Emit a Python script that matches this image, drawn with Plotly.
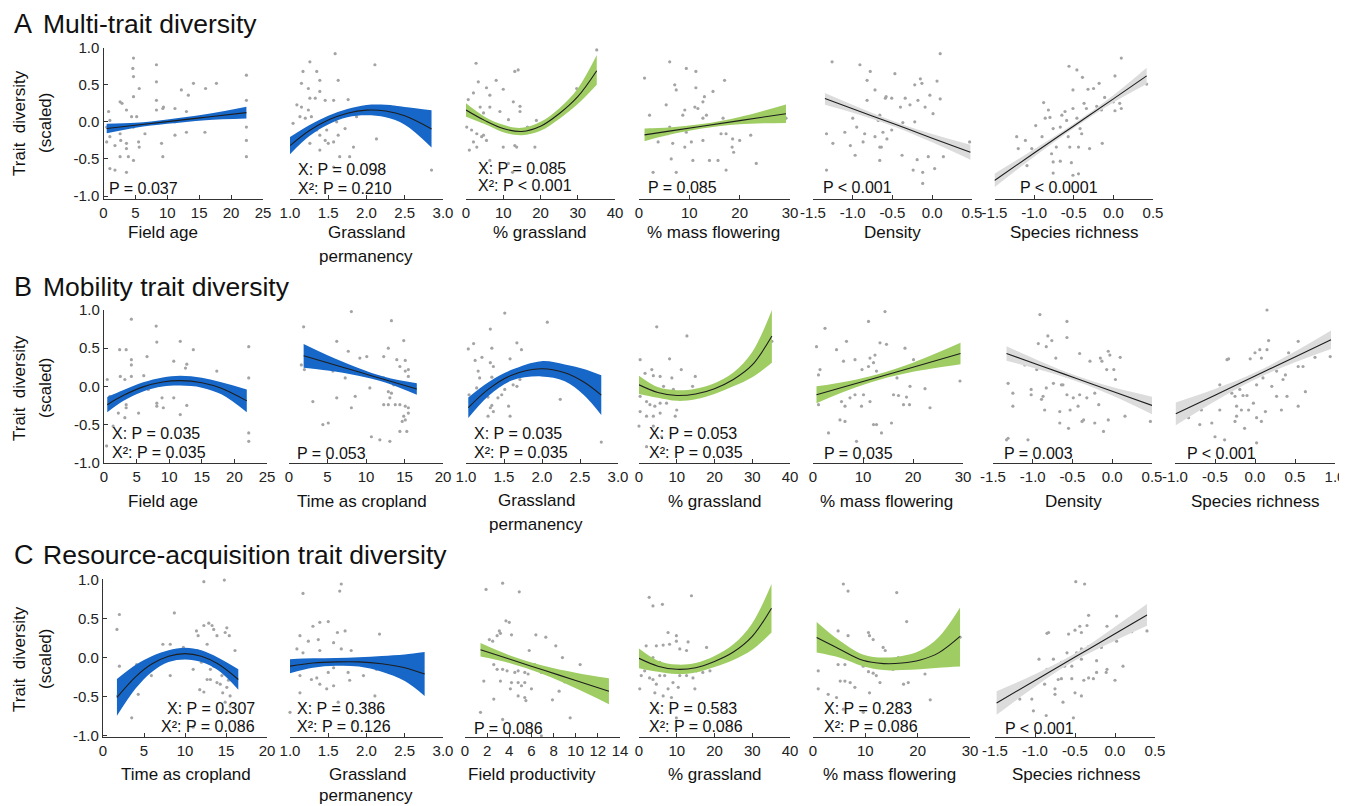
import plotly.graph_objects as go

W, H = 1347, 806          # browser window
OX, OY = 8, 8             # default page margin of the html body
FW, FH = W - OX, H - OY   # figure size so it fits the window exactly
FONT = "Liberation Sans, Arial, Helvetica, sans-serif"
BLUE = "#1767C8"
GREEN = "#9FCD63"
GREY = "#DCDCDC"
PT = "#A4A4A4"
AX = "#333333"

# ---------------- data ----------------
# scatter points (x, y) per panel
a1_pts = [(8.3,1.06),(4.7,0.86),(4.6,0.72),(4.7,0.61),(8.3,0.77),(8.3,0.54),(5.6,0.45),(0.8,0.14),(2.6,0.27),(2.9,0.25),(3.6,0.16),(4.7,0.34),(8.3,0.29),(9.4,0.2),(9.3,0.18),(11.2,0.18),(12.2,0.43),(13.3,0.36),(14.1,0.52),(16.0,0.45),(17.7,0.52),(22.4,0.63),(22.4,0.29),(22.4,-0.07),(22.4,-0.25),(22.4,-0.47),(0.5,-0.07),(1.0,-0.2),(1.8,-0.32),(2.6,-0.16),(2.7,-0.25),(3.6,-0.29),(3.6,-0.36),(3.9,-0.47),(2.6,-0.47),(1.0,-0.63),(1.8,-0.65),(3.6,-0.68),(4.7,-0.52),(5.2,0.07),(5.5,-0.27),(5.6,-0.34),(4.4,0.07),(4.7,-0.07),(9.1,-0.29),(9.3,-0.47),(11.2,-0.18),(13.0,-0.14),(15.9,-0.14),(6.5,-0.16),(8.3,0.16),(13.0,0.14),(11.2,0.0),(0.5,-0.27),(1.0,0.02)]
a2_pts = [(1.33,1.13),(1.59,0.92),(1.26,0.81),(2.11,0.77),(1.17,0.68),(1.35,0.68),(1.15,0.52),(1.39,0.56),(1.63,0.56),(1.24,0.45),(1.39,0.41),(1.46,0.29),(1.57,0.29),(1.76,0.3),(1.09,0.23),(1.15,0.2),(1.24,0.16),(1.33,0.32),(1.26,0.32),(1.04,-0.02),(1.13,0.07),(1.2,0.05),(1.28,0.07),(1.35,-0.11),(1.39,-0.18),(1.46,-0.25),(1.5,-0.29),(1.57,-0.27),(1.63,-0.18),(1.65,-0.47),(1.78,-0.47),(1.83,-0.34),(2.13,-0.23),(1.39,-0.38),(1.26,-0.29),(1.57,-0.61),(2.85,-0.65),(1.3,-0.05),(1.61,0.0),(1.87,0.07),(1.15,-0.16),(1.09,-0.29),(1.72,-0.09),(1.48,-0.11),(2.37,0.2)]
a3_pts = [(35.1,0.97),(2.7,0.79),(14.0,0.7),(13.1,0.68),(3.3,0.54),(8.1,0.56),(5.5,0.46),(10.0,0.44),(2.0,0.39),(6.4,0.36),(0.6,0.3),(3.8,0.2),(6.4,0.2),(12.7,0.27),(14.5,0.21),(29.7,0.45),(4.7,0.12),(9.1,0.14),(11.4,0.03),(14.5,0.14),(18.9,0.02),(1.5,-0.11),(2.9,-0.16),(4.2,-0.2),(4.7,-0.18),(2.0,-0.27),(2.9,-0.34),(0.9,-0.38),(5.5,-0.25),(10.0,-0.34),(13.1,-0.32),(13.6,-0.34),(18.5,-0.34),(6.4,-0.52),(11.4,-0.56),(12.5,-0.68),(16.5,-0.07),(7.8,-0.06),(0.2,-0.07),(2.0,0.07)]
a4_pts = [(2.4,1.01),(6.1,0.81),(9.4,0.72),(11.3,0.68),(1.1,0.59),(7.1,0.5),(7.4,0.43),(17.0,0.56),(11.3,0.46),(13.0,0.34),(14.7,0.41),(5.4,0.23),(9.1,0.16),(11.1,0.2),(11.7,0.18),(12.7,0.27),(13.4,0.09),(2.1,0.09),(8.7,0.09),(12.7,0.05),(16.7,0.05),(19.3,0.0),(2.1,-0.11),(6.1,-0.07),(5.7,-0.16),(9.4,-0.14),(10.4,-0.27),(12.7,-0.25),(16.3,-0.16),(17.3,-0.16),(18.6,-0.23),(20.0,-0.25),(22.2,-0.18),(29.2,0.05),(6.7,-0.29),(9.1,-0.34),(10.7,-0.52),(14.0,-0.52),(15.7,-0.52),(6.4,-0.5),(2.8,-0.68),(7.4,-0.68),(17.3,-0.65),(23.3,-0.56),(18.5,-0.34),(18.8,-0.41),(3.8,-0.27)]
a5_pts = [(-1.26,0.81),(-0.91,0.77),(-0.78,0.68),(-0.57,1.13),(-0.82,0.56),(-0.72,0.43),(-0.58,0.34),(-0.82,0.29),(-1.33,-0.16),(-1.25,-0.29),(-1.1,-0.14),(-1.03,-0.32),(-0.95,-0.07),(-0.85,-0.16),(-0.87,-0.27),(-0.97,-0.45),(-0.72,-0.2),(-0.64,-0.34),(-1.33,-0.65),(-1.0,0.05),(-0.81,0.11),(-0.68,0.02),(0.1,0.92),(-0.47,0.65),(-0.15,0.58),(-0.13,0.52),(-0.22,0.5),(0.06,0.55),(-0.59,0.32),(-0.51,0.32),(-0.34,0.32),(-0.03,0.36),(0.1,0.31),(-0.18,0.29),(-0.4,0.2),(-0.28,0.23),(-0.09,0.2),(0.01,0.11),(-0.22,0.0),(-0.66,0.09),(-0.51,-0.02),(-0.37,-0.01),(-0.62,-0.14),(-0.24,-0.11),(-0.66,-0.34),(-0.51,-0.11),(-0.57,-0.23),(-0.38,-0.45),(-0.19,-0.51),(-0.05,-0.47),(0.14,-0.47),(0.03,-0.63),(-0.24,-0.65),(-0.12,-0.68),(-0.12,-0.83),(-0.03,-0.2),(0.47,-0.27),(-0.66,-0.52)]
a6_pts = [(0.16,1.06),(0.1,0.86),(-0.56,0.75),(-0.46,0.7),(-0.39,0.6),(-0.18,0.52),(-0.51,0.43),(-0.32,0.44),(-0.25,0.45),(0.02,0.62),(0.42,0.51),(-0.88,0.26),(-0.82,0.16),(-0.86,0.05),(-0.8,0.06),(-0.65,0.09),(-0.51,0.18),(-0.61,0.14),(-0.37,0.25),(-0.34,0.18),(-0.21,0.21),(-0.11,0.33),(0.0,0.27),(0.08,0.25),(0.1,0.18),(0.02,0.15),(-0.15,0.16),(-0.98,-0.05),(-0.76,-0.09),(-0.67,-0.07),(-0.59,0.02),(-0.46,0.05),(-0.42,-0.09),(-1.22,-0.2),(-1.11,-0.25),(-0.9,-0.2),(-0.8,-0.27),(-0.72,-0.34),(-0.57,-0.2),(-0.55,-0.34),(-0.44,-0.34),(-0.3,-0.36),(-0.14,-0.29),(-1.2,-0.36),(-1.03,-0.36),(-1.37,-0.7),(-1.09,-0.59),(-0.76,-0.54),(-0.67,-0.53),(-0.53,-0.55),(-0.78,-0.43),(-0.76,-0.69),(-0.51,-0.72),(-0.44,-0.7),(-0.4,-0.16)]
b1_pts = [(15.4,1.04),(4.2,0.88),(8.0,0.79),(8.1,0.58),(11.7,0.59),(2.4,0.48),(3.4,0.48),(4.2,0.35),(4.2,0.28),(22.2,0.52),(10.7,0.33),(12.5,0.24),(12.7,0.29),(17.3,0.2),(0.5,0.09),(2.5,0.13),(3.2,0.09),(4.2,0.13),(6.1,0.14),(22.2,0.11),(2.1,-0.2),(3.2,-0.15),(3.4,-0.24),(3.4,-0.28),(5.3,-0.07),(8.1,-0.22),(8.1,-0.26),(8.9,-0.15),(9.1,-0.28),(10.7,-0.15),(12.7,-0.25),(11.7,-0.37),(2.2,-0.35),(3.2,-0.41),(5.3,-0.35),(1.4,-0.52),(0.4,-0.78),(22.2,-0.61),(22.2,-0.72),(6.6,0.39),(13.7,0.48),(0.9,-0.13),(6.8,-0.04)]
b2_pts = [(8.1,0.98),(13.3,0.86),(1.9,0.78),(6.2,0.59),(14.9,0.6),(12.9,0.5),(7.7,0.46),(9.2,0.37),(10.1,0.39),(12.3,0.39),(14.0,0.35),(15.1,0.34),(14.4,0.26),(15.1,0.2),(15.5,0.22),(15.5,0.13),(12.3,0.11),(1.6,0.28),(2.0,0.22),(5.7,0.2),(7.3,0.11),(13.6,0.02),(10.5,-0.02),(12.9,-0.07),(13.3,-0.09),(8.6,-0.13),(6.2,-0.15),(13.1,-0.15),(3.1,-0.2),(8.1,-0.28),(12.3,-0.24),(12.9,-0.24),(13.8,-0.24),(14.4,-0.24),(15.1,-0.26),(15.5,-0.28),(14.9,-0.39),(14.7,-0.46),(15.1,-0.44),(15.5,-0.35),(4.4,-0.5),(5.1,-0.48),(15.3,-0.59),(14.4,-0.59),(11.8,-0.7),(13.1,-0.72),(10.7,-0.66)]
b3_pts = [(1.51,0.96),(2.07,0.84),(1.32,0.75),(1.1,0.56),(1.03,0.49),(1.67,0.57),(1.34,0.5),(1.73,0.48),(1.12,0.34),(1.21,0.38),(1.32,0.31),(1.36,0.26),(1.58,0.36),(1.16,0.2),(1.18,0.11),(1.34,0.12),(1.67,0.0),(1.62,0.02),(1.51,-0.04),(1.23,-0.07),(1.29,-0.14),(1.42,-0.15),(1.47,-0.11),(1.56,-0.26),(1.34,-0.25),(1.32,-0.28),(1.36,-0.33),(1.29,-0.39),(1.58,-0.39),(2.24,-0.17),(2.78,-0.73),(1.04,-0.11),(1.14,-0.02),(1.71,0.09)]
b4_pts = [(4.7,0.78),(12.7,0.66),(0.3,0.35),(8.1,0.36),(11.2,0.22),(3.4,0.22),(1.6,0.17),(3.8,0.14),(5.6,0.13),(8.7,0.11),(14.9,0.13),(1.3,0.02),(6.5,0.0),(14.2,0.0),(29.5,0.17),(35.2,0.59),(0.3,-0.13),(2.0,-0.2),(2.9,-0.24),(4.2,-0.26),(5.6,-0.22),(0.3,-0.33),(2.0,-0.39),(3.8,-0.39),(5.6,-0.35),(10.0,-0.31),(7.3,-0.22),(0.0,-0.52),(3.8,-0.52),(9.6,-0.39),(2.0,-0.79),(6.0,-0.66),(1.6,-0.09),(9.1,-0.04),(20.6,0.01)]
b5_pts = [(14.4,0.98),(11.1,0.85),(2.4,0.76),(6.7,0.59),(13.4,0.57),(4.7,0.48),(0.7,0.52),(6.1,0.33),(8.4,0.35),(9.8,0.22),(11.4,0.37),(12.1,0.31),(12.4,0.41),(11.1,0.26),(12.7,0.2),(1.4,0.22),(1.1,0.15),(8.7,0.02),(8.4,-0.11),(10.1,-0.11),(7.4,-0.15),(5.7,-0.2),(6.4,-0.26),(9.7,-0.26),(11.4,-0.2),(1.1,-0.24),(5.4,-0.44),(6.4,-0.46),(12.1,-0.5),(12.7,-0.5),(3.1,-0.61),(8.7,-0.72),(20.1,0.35),(18.4,0.5),(29.4,0.07),(16.8,0.11),(19.4,0.0),(22.4,-0.03),(16.1,-0.11),(17.1,-0.12),(18.1,-0.24),(19.3,-0.24),(23.4,-0.28),(18.7,-0.14),(15.7,-0.48),(13.7,-0.61),(14.7,0.55)]
b6_pts = [(-0.22,1.07),(-0.91,0.94),(-0.57,0.85),(-0.81,0.66),(-0.76,0.6),(-0.83,0.52),(-0.57,0.64),(-0.93,0.56),(-0.05,0.46),(-0.03,0.41),(-0.15,0.37),(-0.13,0.33),(0.1,0.38),(-0.41,0.43),(-0.28,0.33),(-0.71,0.37),(-1.1,0.28),(-0.95,0.22),(-0.83,0.26),(-0.07,0.22),(0.02,0.22),(0.04,0.09),(-1.31,0.04),(-1.25,-0.09),(-1.02,-0.04),(-1.02,-0.11),(-0.87,-0.13),(-0.83,-0.02),(-0.74,0.04),(-0.64,0.02),(-0.62,0.02),(-0.57,-0.11),(-0.49,-0.15),(-0.41,-0.11),(-0.32,-0.15),(-0.22,-0.09),(-0.17,-0.24),(-0.43,-0.26),(-0.89,-0.17),(-1.25,-0.26),(-0.85,-0.31),(-0.66,-0.33),(-0.53,-0.31),(-0.38,-0.46),(-0.36,-0.44),(-0.22,-0.48),(-0.11,-0.59),(-0.05,-0.44),(-0.66,-0.48),(-0.55,-0.55),(0.16,-0.39),(0.48,-0.46),(-1.33,-0.7),(-1.06,-0.7),(-1.31,-0.68)]
b7_pts = [(0.63,1.11),(0.02,1.03),(0.15,1.0),(0.17,0.6),(0.54,0.59),(0.06,0.48),(0.15,0.48),(0.0,0.44),(-0.06,0.36),(0.08,0.37),(-0.35,0.35),(-0.33,0.36),(0.42,0.44),(0.52,0.39),(0.75,0.38),(0.94,0.39),(0.54,0.26),(0.6,0.26),(-0.44,0.02),(-0.29,-0.09),(-0.19,-0.04),(-0.1,0.09),(0.02,0.02),(0.1,0.11),(0.27,0.2),(0.38,0.15),(0.35,0.09),(0.21,0.0),(0.27,-0.13),(0.4,-0.13),(-0.25,-0.13),(-0.15,-0.12),(-0.1,-0.12),(-0.02,-0.22),(-0.23,-0.26),(-0.17,-0.31),(-0.08,-0.31),(-0.23,-0.39),(-0.25,-0.46),(0.02,-0.41),(0.08,-0.46),(0.13,-0.33),(0.33,-0.31),(0.54,-0.26),(0.63,-0.07),(-0.83,-0.41),(-0.69,-0.5),(-0.54,-0.48),(-0.5,-0.66),(-0.38,-0.7),(-0.13,-0.55),(0.02,-0.74),(-0.44,-0.31),(-0.67,-0.31)]
c1_pts = [(8.2,1.09),(12.3,0.97),(14.8,0.99),(8.7,0.57),(2.0,0.55),(1.7,0.36),(12.3,0.41),(12.9,0.44),(13.3,0.41),(13.5,0.36),(15.1,0.38),(14.9,0.32),(15.4,0.28),(11.4,0.34),(11.6,0.28),(13.9,0.28),(12.7,0.17),(7.3,0.17),(8.2,0.17),(9.8,0.13),(11.5,0.09),(16.1,0.09),(2.0,-0.11),(4.1,-0.09),(5.9,-0.23),(8.2,-0.23),(11.0,-0.15),(12.0,-0.06),(13.1,-0.15),(13.5,-0.11),(14.1,-0.06),(14.5,-0.23),(14.9,-0.19),(13.1,-0.28),(13.9,-0.32),(14.3,-0.34),(15.3,-0.29),(15.1,-0.38),(14.6,-0.45),(11.8,-0.41),(12.3,-0.44),(15.5,-0.49),(14.9,-0.57),(15.5,-0.62),(15.1,-0.7),(3.5,-0.77),(1.8,-0.49),(4.3,-0.47),(11.0,-0.89),(12.7,-0.28)]
c2_pts = [(1.67,0.94),(1.65,0.85),(1.17,0.82),(1.5,0.46),(1.39,0.45),(1.62,0.32),(1.72,0.34),(1.3,0.4),(1.13,0.28),(1.24,0.21),(1.37,0.23),(1.57,0.19),(2.17,0.3),(1.09,0.11),(1.17,0.06),(1.39,0.09),(1.67,0.11),(2.0,-0.02),(1.8,0.09),(1.04,-0.13),(1.22,-0.11),(1.41,-0.09),(1.5,-0.19),(1.57,-0.13),(1.76,-0.19),(1.28,-0.28),(1.35,-0.26),(1.39,-0.34),(1.48,-0.4),(1.57,-0.36),(1.78,-0.29),(2.11,-0.49),(1.13,-0.45),(1.0,-0.7),(1.63,-0.57),(1.83,-0.83),(2.13,-0.15),(1.96,-0.23),(1.13,-0.23)]
c3_pts = [(3.4,0.95),(1.9,0.87),(4.9,0.84),(3.7,0.47),(4.0,0.45),(3.1,0.34),(3.2,0.31),(2.9,0.28),(4.2,0.29),(2.2,0.23),(2.5,0.21),(6.4,0.29),(7.3,0.26),(8.2,0.15),(5.8,0.09),(2.3,0.04),(2.8,0.06),(2.6,-0.09),(2.9,-0.15),(3.4,-0.15),(3.8,-0.17),(4.5,-0.19),(4.8,-0.17),(5.4,-0.19),(5.7,-0.21),(6.3,-0.09),(6.9,-0.19),(8.8,0.0),(10.4,-0.09),(9.0,-0.31),(1.7,-0.3),(3.2,-0.3),(4.2,-0.32),(4.8,-0.32),(5.4,-0.32),(6.0,-0.4),(5.1,-0.36),(4.1,-0.4),(4.8,-0.49),(5.4,-0.51),(5.5,-0.55),(7.3,-0.19),(7.9,-0.54),(8.5,-0.43),(2.6,-0.53),(1.4,-0.7),(3.4,-0.79),(9.5,-0.77),(6.9,-1.0)]
c4_pts = [(2.7,0.77),(6.2,0.68),(3.7,0.66),(13.9,0.79),(7.7,0.32),(9.9,0.28),(13.0,0.2),(1.9,0.15),(4.6,0.15),(6.4,0.16),(8.1,0.17),(9.9,0.21),(10.8,0.11),(12.6,0.09),(17.9,0.13),(29.8,0.16),(3.7,0.0),(5.5,-0.06),(6.2,-0.13),(2.4,-0.09),(1.5,-0.17),(0.6,-0.23),(2.8,-0.26),(3.7,-0.28),(4.6,-0.34),(5.5,-0.23),(6.8,-0.23),(9.0,-0.32),(10.8,-0.23),(12.6,-0.23),(14.3,-0.26),(15.2,-0.17),(16.9,-0.19),(18.8,-0.17),(14.8,-0.4),(4.2,-0.45),(6.4,-0.49),(8.6,-0.51),(10.4,-0.38),(5.0,-0.68),(9.9,-0.77),(0.2,-0.4),(7.7,-0.4)]
c5_pts = [(5.8,0.94),(6.7,0.85),(4.8,0.34),(6.7,0.28),(10.6,0.32),(10.8,0.28),(11.5,0.23),(13.4,0.13),(4.8,-0.09),(6.1,-0.09),(9.6,-0.11),(10.6,-0.18),(11.5,-0.2),(12.1,-0.23),(5.2,-0.3),(6.1,-0.3),(7.1,-0.32),(8.0,-0.38),(12.8,-0.32),(1.0,-0.17),(2.9,-0.47),(4.5,-0.51),(10.8,-0.45),(5.8,-0.66),(9.6,-0.7),(1.0,-0.4),(16.0,0.83),(17.9,0.46),(13.8,0.09),(16.3,0.0),(17.3,0.0),(15.3,-0.15),(21.4,-0.21),(17.3,-0.34),(18.2,-0.32),(22.4,-0.54),(28.1,0.26)]
c6_pts = [(0.1,1.05),(-0.49,0.97),(-0.38,0.94),(-0.33,0.54),(0.02,0.53),(-0.85,0.31),(-0.83,0.32),(-0.58,0.3),(-0.5,0.35),(-0.42,0.32),(-0.44,0.4),(-0.35,0.41),(-0.1,0.4),(0.02,0.21),(0.21,0.33),(0.4,0.34),(-0.6,0.06),(-0.48,0.06),(-0.42,0.11),(-0.33,0.14),(-0.25,0.13),(-0.17,0.13),(-0.95,-0.02),(-0.77,-0.02),(-0.67,-0.06),(-0.63,-0.11),(-0.54,-0.11),(-0.42,-0.02),(-0.23,-0.04),(-0.85,-0.15),(-0.79,-0.19),(-0.71,-0.28),(-0.67,-0.27),(-0.54,-0.27),(-0.39,-0.29),(-0.33,-0.26),(-0.27,-0.27),(-0.23,-0.19),(-0.1,-0.15),(-0.11,-0.19),(0.0,-0.29),(0.1,-0.11),(-1.31,-0.45),(-1.17,-0.36),(-0.88,-0.34),(-0.75,-0.4),(-0.75,-0.47),(-0.5,-0.45),(-0.42,-0.49),(-0.65,-0.57),(-1.04,-0.53),(-1.19,-0.53),(-1.02,-0.68),(-0.86,-0.74),(-0.52,-0.77)]

# fitted curves: x, fit, lower CI, upper CI
a1_fx = [0.5, 5, 10, 16, 22.4];     a1_fy = [-0.09, -0.046, 0.003, 0.062, 0.125]
a1_lo = [-0.155, -0.08, -0.027, 0.022, 0.045];   a1_hi = [-0.025, -0.012, 0.033, 0.102, 0.205]
a2_fx = [1.0, 1.25, 1.5, 1.75, 2.0, 2.25, 2.5, 2.85]; a2_fy = [-0.32, -0.12, 0.024, 0.117, 0.158, 0.146, 0.082, -0.095]
a2_lo = [-0.435, -0.195, -0.036, 0.062, 0.088, 0.061, -0.038, -0.345]; a2_hi = [-0.205, -0.045, 0.084, 0.172, 0.228, 0.231, 0.202, 0.155]
a3_fx = [0, 5, 10, 15, 20, 25, 30, 35.1]; a3_fy = [0.16, 0.02, -0.09, -0.13, -0.06, 0.11, 0.34, 0.69]
a3_lo = [0.07, -0.03, -0.14, -0.18, -0.12, 0.04, 0.24, 0.5]; a3_hi = [0.25, 0.07, -0.04, -0.08, 0.0, 0.18, 0.45, 0.9]
a4_fx = [1.1, 6, 12.5, 20, 29.2]; a4_fy = [-0.175, -0.125, -0.06, 0.017, 0.11]
a4_lo = [-0.26, -0.175, -0.09, -0.033, -0.015]; a4_hi = [-0.09, -0.075, -0.03, 0.067, 0.235]
a5_fx = [-1.35, -0.9, -0.45, 0.0, 0.48]; a5_fy = [0.315, 0.137, -0.04, -0.22, -0.41]
a5_lo = [0.23, 0.09, -0.075, -0.275, -0.51]; a5_hi = [0.39, 0.185, -0.005, -0.165, -0.31]
a6_fx = [-1.5, -1.0, -0.5, 0.0, 0.42]; a6_fy = [-0.79, -0.42, -0.055, 0.31, 0.62]
a6_lo = [-0.88, -0.47, -0.085, 0.26, 0.51]; a6_hi = [-0.70, -0.37, -0.025, 0.36, 0.73]
b1_fx = [0.5, 3, 6, 9, 11.7, 15, 18, 21.9]; b1_fy = [-0.24, -0.118, -0.007, 0.057, 0.075, 0.048, -0.025, -0.19]
b1_lo = [-0.34, -0.19, -0.067, -0.003, 0.01, -0.017, -0.105, -0.34]; b1_hi = [-0.14, -0.048, 0.053, 0.117, 0.14, 0.113, 0.055, -0.04]
b2_fx = [1.9, 5, 9, 12.5, 16.6]; b2_fy = [0.4, 0.308, 0.19, 0.086, -0.035]
b2_lo = [0.245, 0.208, 0.14, 0.051, -0.11]; b2_hi = [0.555, 0.408, 0.24, 0.121, 0.04]
b3_fx = [1.03, 1.3, 1.6, 1.99, 2.3, 2.55, 2.78]; b3_fy = [-0.28, -0.033, 0.146, 0.23, 0.177, 0.056, -0.115]
b3_lo = [-0.415, -0.123, 0.076, 0.13, 0.067, -0.114, -0.375]; b3_hi = [-0.145, 0.057, 0.216, 0.33, 0.287, 0.226, 0.145]
b4_fx = [0, 5, 10, 15, 20, 25, 30, 35.2]; b4_fy = [0.02, -0.08, -0.12, -0.1, -0.03, 0.09, 0.28, 0.66]
b4_lo = [-0.1, -0.15, -0.19, -0.17, -0.1, 0.0, 0.12, 0.31]; b4_hi = [0.14, -0.01, -0.05, -0.03, 0.04, 0.18, 0.45, 1.0]
b5_fx = [0.7, 7, 13, 20, 29.5]; b5_fy = [-0.11, 0.008, 0.12, 0.25, 0.43]
b5_lo = [-0.22, -0.052, 0.08, 0.19, 0.29]; b5_hi = [0.0, 0.068, 0.16, 0.31, 0.57]
b6_fx = [-1.33, -0.9, -0.45, 0.0, 0.5]; b6_fy = [0.43, 0.27, 0.103, -0.065, -0.25]
b6_lo = [0.335, 0.215, 0.068, -0.12, -0.365]; b6_hi = [0.525, 0.325, 0.138, -0.01, -0.135]
b7_fx = [-0.99, -0.5, 0.0, 0.5, 0.95]; b7_fy = [-0.36, -0.115, 0.135, 0.385, 0.61]
b7_lo = [-0.51, -0.195, 0.09, 0.315, 0.49]; b7_hi = [-0.21, -0.035, 0.18, 0.455, 0.73]
c1_fx = [1.7, 4, 6, 8, 10, 12, 14, 16.5]; c1_fy = [-0.51, -0.243, -0.08, 0.017, 0.05, 0.017, -0.08, -0.28]
c1_lo = [-0.745, -0.393, -0.18, -0.058, -0.025, -0.058, -0.16, -0.41]; c1_hi = [-0.275, -0.093, 0.02, 0.092, 0.125, 0.092, 0.0, -0.15]
c2_fx = [1.0, 1.3, 1.6, 1.9, 2.2, 2.5, 2.76]; c2_fy = [-0.11, -0.07, -0.055, -0.055, -0.08, -0.13, -0.21]
c2_lo = [-0.2, -0.13, -0.105, -0.115, -0.18, -0.3, -0.49]; c2_hi = [-0.02, -0.01, -0.005, 0.005, 0.02, 0.04, 0.07]
c3_fx = [1.4, 4, 7, 10, 13]; c3_fy = [0.1, -0.019, -0.156, -0.293, -0.43]
c3_lo = [0.015, -0.069, -0.211, -0.393, -0.595]; c3_hi = [0.185, 0.031, -0.101, -0.193, -0.265]
c4_fx = [0, 5, 10, 15, 20, 25, 30, 35.1]; c4_fy = [-0.01, -0.11, -0.15, -0.13, -0.05, 0.07, 0.27, 0.63]
c4_lo = [-0.135, -0.18, -0.21, -0.19, -0.12, -0.03, 0.1, 0.32]; c4_hi = [0.115, -0.04, -0.09, -0.07, 0.02, 0.17, 0.44, 0.94]
c5_fx = [0.7, 5, 9.5, 13.5, 17, 20.5, 24, 28.1]; c5_fy = [0.255, 0.11, -0.035, -0.077, -0.07, -0.03, 0.06, 0.27]
c5_lo = [0.064, 0.0, -0.11, -0.16, -0.16, -0.15, -0.13, -0.115]; c5_hi = [0.455, 0.22, 0.04, 0.0, 0.02, 0.09, 0.26, 0.64]
c6_fx = [-1.48, -1.0, -0.5, 0.0, 0.4]; c6_fy = [-0.58, -0.293, 0.006, 0.305, 0.545]
c6_lo = [-0.73, -0.373, -0.039, 0.215, 0.405]; c6_hi = [-0.43, -0.213, 0.051, 0.395, 0.685]

# tick labels
t_age = [0, 5, 10, 15, 20, 25]
t_crop = [0, 5, 10, 15, 20]
t_perm = [1.0, 1.5, 2.0, 2.5, 3.0]
t_grass = [0, 10, 20, 30, 40]
t_mf = [0, 10, 20, 30]
t_std = [-1.5, -1.0, -0.5, 0.0, 0.5]
t_sr = [-1.0, -0.5, 0.0, 0.5, 1.0]
t_prod = [0, 2, 4, 6, 8, 10, 12, 14]
t_y = [-1.0, -0.5, 0.0, 0.5, 1.0]

def lab(vals, dec):
    return [(f"{v:.1f}" if dec else f"{int(v)}") for v in vals]

def px(x):   # window pixel -> paper x
    return (x - OX) / FW

def py(y):   # window pixel -> paper y
    return 1 - (y - OY) / FH

# ---------------- layout geometry (window pixels) ----------------
rows = {
    "A": dict(ytop=47.7, ybot=199.0, yr=[-1.04, 1.0]),
    "B": dict(ytop=310.0, ybot=462.7, yr=[-1.0, 1.0]),
    "C": dict(ytop=579.3, ybot=737.0, yr=[-1.015, 1.0]),
}

panels = [
    dict(row="A", x0=103.5, x1=263, xr=[0, 25], tv=t_age, dec=False, pts=a1_pts, fit=(a1_fx, a1_fy, a1_lo, a1_hi), col=BLUE, ylab=True),
    dict(row="A", x0=290, x1=443, xr=[1, 3], tv=t_perm, dec=True, pts=a2_pts, fit=(a2_fx, a2_fy, a2_lo, a2_hi), col=BLUE),
    dict(row="A", x0=466, x1=615, xr=[0, 40], tv=t_grass, dec=False, pts=a3_pts, fit=(a3_fx, a3_fy, a3_lo, a3_hi), col=GREEN),
    dict(row="A", x0=639, x1=790, xr=[0, 30], tv=t_mf, dec=False, pts=a4_pts, fit=(a4_fx, a4_fy, a4_lo, a4_hi), col=GREEN),
    dict(row="A", x0=813, x1=972, xr=[-1.5, 0.5], tv=t_std, dec=True, pts=a5_pts, fit=(a5_fx, a5_fy, a5_lo, a5_hi), col=GREY),
    dict(row="A", x0=994.5, x1=1153, xr=[-1.5, 0.5], tv=t_std, dec=True, pts=a6_pts, fit=(a6_fx, a6_fy, a6_lo, a6_hi), col=GREY),

    dict(row="B", x0=104, x1=267, xr=[0, 25], tv=t_age, dec=False, pts=b1_pts, fit=(b1_fx, b1_fy, b1_lo, b1_hi), col=BLUE, ylab=True),
    dict(row="B", x0=289, x1=443, xr=[0, 20], tv=t_crop, dec=False, pts=b2_pts, fit=(b2_fx, b2_fy, b2_lo, b2_hi), col=BLUE),
    dict(row="B", x0=466, x1=618, xr=[1, 3], tv=t_perm, dec=True, pts=b3_pts, fit=(b3_fx, b3_fy, b3_lo, b3_hi), col=BLUE),
    dict(row="B", x0=639, x1=790, xr=[0, 40], tv=t_grass, dec=False, pts=b4_pts, fit=(b4_fx, b4_fy, b4_lo, b4_hi), col=GREEN),
    dict(row="B", x0=813, x1=963, xr=[0, 30], tv=t_mf, dec=False, pts=b5_pts, fit=(b5_fx, b5_fy, b5_lo, b5_hi), col=GREEN),
    dict(row="B", x0=993, x1=1152, xr=[-1.5, 0.5], tv=t_std, dec=True, pts=b6_pts, fit=(b6_fx, b6_fy, b6_lo, b6_hi), col=GREY),
    dict(row="B", x0=1175, x1=1335, xr=[-1.0, 1.0], tv=t_sr, dec=True, pts=b7_pts, fit=(b7_fx, b7_fy, b7_lo, b7_hi), col=GREY),

    dict(row="C", x0=103, x1=267, xr=[0, 20], tv=t_crop, dec=False, pts=c1_pts, fit=(c1_fx, c1_fy, c1_lo, c1_hi), col=BLUE, ylab=True),
    dict(row="C", x0=290, x1=443, xr=[1, 3], tv=t_perm, dec=True, pts=c2_pts, fit=(c2_fx, c2_fy, c2_lo, c2_hi), col=BLUE),
    dict(row="C", x0=465, x1=620, xr=[0, 14], tv=t_prod, dec=False, pts=c3_pts, fit=(c3_fx, c3_fy, c3_lo, c3_hi), col=GREEN),
    dict(row="C", x0=639, x1=790, xr=[0, 40], tv=t_grass, dec=False, pts=c4_pts, fit=(c4_fx, c4_fy, c4_lo, c4_hi), col=GREEN),
    dict(row="C", x0=813, x1=970, xr=[0, 30], tv=t_mf, dec=False, pts=c5_pts, fit=(c5_fx, c5_fy, c5_lo, c5_hi), col=GREEN),
    dict(row="C", x0=995, x1=1155, xr=[-1.5, 0.5], tv=t_std, dec=True, pts=c6_pts, fit=(c6_fx, c6_fy, c6_lo, c6_hi), col=GREY),
]

fig = go.Figure()
layout = {}
for i, p in enumerate(panels, start=1):
    xa = "x" if i == 1 else f"x{i}"
    ya = "y" if i == 1 else f"y{i}"
    r = rows[p["row"]]
    xs = [a for a, b in p["pts"]]
    ys = [b for a, b in p["pts"]]
    fx, fy, lo, hi = p["fit"]
    fig.add_trace(go.Scatter(x=xs, y=ys, mode="markers", xaxis=xa, yaxis=ya,
                             marker=dict(size=3.2, color=PT), cliponaxis=False,
                             hoverinfo="skip", showlegend=False))
    fig.add_trace(go.Scatter(x=fx, y=lo, mode="lines", xaxis=xa, yaxis=ya,
                             line=dict(width=0, shape="spline", color=p["col"]),
                             hoverinfo="skip", showlegend=False))
    fig.add_trace(go.Scatter(x=fx, y=hi, mode="lines", xaxis=xa, yaxis=ya,
                             line=dict(width=0, shape="spline", color=p["col"]),
                             fill="tonexty", fillcolor=p["col"],
                             hoverinfo="skip", showlegend=False))
    fig.add_trace(go.Scatter(x=fx, y=fy, mode="lines", xaxis=xa, yaxis=ya,
                             line=dict(width=1.1, shape="spline", color="#1E1E1E"),
                             hoverinfo="skip", showlegend=False))
    xk = "xaxis" if i == 1 else f"xaxis{i}"
    yk = "yaxis" if i == 1 else f"yaxis{i}"
    layout[xk] = dict(domain=[px(p["x0"]), px(p["x1"])], range=p["xr"], anchor=ya,
                      tickvals=p["tv"], ticktext=lab(p["tv"], p["dec"]),
                      ticks="inside", ticklen=4, tickwidth=1, tickcolor=AX,
                      showline=True, linecolor=AX, linewidth=1.3,
                      showgrid=False, zeroline=False, fixedrange=True, automargin=False,
                      tickfont=dict(family=FONT, size=15, color="#222222"))
    yax = dict(domain=[py(r["ybot"]), py(r["ytop"])], range=r["yr"], anchor=xa,
               showgrid=False, zeroline=False, fixedrange=True, automargin=False)
    if p.get("ylab"):
        yax.update(showline=True, linecolor=AX, linewidth=1.3, ticks="inside", ticklen=4,
                   tickwidth=1, tickcolor=AX, tickvals=t_y, ticktext=lab(t_y, True),
                   tickfont=dict(family=FONT, size=15, color="#222222"))
    else:
        yax.update(visible=False)
    layout[yk] = yax

ann = []
def txt(x, y, s, size=16, xa="left", angle=0):
    ann.append(dict(x=px(x), y=py(y), xref="paper", yref="paper", text=s,
                    showarrow=False, xanchor=xa, yanchor="middle", textangle=angle,
                    font=dict(family=FONT, size=size, color="#111111")))

# headers
for letter, title, yc in [("A", "Multi-trait diversity", 24), ("B", "Mobility trait diversity", 287),
                          ("C", "Resource-acquisition trait diversity", 555)]:
    txt(12, yc, letter, size=27)
    txt(41, yc, title, size=26.5)

# y titles
for yc in [123, 388, 659]:
    txt(19, yc, "Trait\u00a0 diversity", size=17, xa="center", angle=-90)
    txt(45, yc, "(scaled)", size=17, xa="center", angle=-90)

# x titles
xt = [
    (163, 233, "Field age"), (366, 233, "Grassland"), (366, 257, "permanency"), (540, 233, "% grassland"),
    (713, 233, "% mass flowering"), (892, 233, "Density"), (1074, 233, "Species richness"),
    (163, 501, "Field age"), (362, 501, "Time as cropland"), (536, 500, "Grassland"), (536, 524, "permanency"),
    (715, 501, "% grassland"), (887, 501, "% mass flowering"), (1073, 501, "Density"), (1255, 501, "Species richness"),
    (186, 774, "Time as cropland"), (367, 774, "Grassland"), (366, 795, "permanency"), (532, 774, "Field productivity"),
    (715, 774, "% grassland"), (889, 774, "% mass flowering"), (1076, 774, "Species richness"),
]
for x, y, s in xt:
    txt(x, y, s, size=17, xa="center")

# P-value notes
notes = [
    (107, 188, "P = 0.037", "left"), (296, 170, "X: P = 0.098", "left"), (296, 188, "X²: P = 0.210", "left"),
    (476, 168, "X: P = 0.085", "left"), (476, 186, "X²: P < 0.001", "left"), (646, 187, "P = 0.085", "left"),
    (821, 187, "P < 0.001", "left"), (1018, 187, "P < 0.0001", "left"),
    (110, 433, "X: P = 0.035", "left"), (110, 452, "X²: P = 0.035", "left"), (295, 453, "P = 0.053", "left"),
    (472, 433, "X: P = 0.035", "left"), (472, 452, "X²: P = 0.035", "left"),
    (647, 433, "X: P = 0.053", "left"), (647, 452, "X²: P = 0.035", "left"),
    (822, 453, "P = 0.035", "left"), (1002, 453, "P = 0.003", "left"), (1185, 453, "P < 0.001", "left"),
    (257, 708, "X: P = 0.307", "right"), (257, 726, "X²: P = 0.086", "right"),
    (295, 708, "X: P = 0.386", "left"), (295, 726, "X²: P = 0.126", "left"),
    (472, 728, "P = 0.086", "left"),
    (647, 708, "X: P = 0.583", "left"), (647, 726, "X²: P = 0.086", "left"),
    (822, 708, "X: P = 0.283", "left"), (822, 726, "X²: P = 0.086", "left"),
    (1003, 728, "P < 0.001", "left"),
]
for x, y, s, a in notes:
    txt(x, y, s, size=16, xa=a)

fig.update_layout(width=FW, height=FH, autosize=False,
                  margin=dict(l=0, r=0, t=0, b=0, pad=0, autoexpand=False),
                  paper_bgcolor="white", plot_bgcolor="white", showlegend=False,
                  annotations=ann, font=dict(family=FONT), **layout)
fig.write_html("out.html")
